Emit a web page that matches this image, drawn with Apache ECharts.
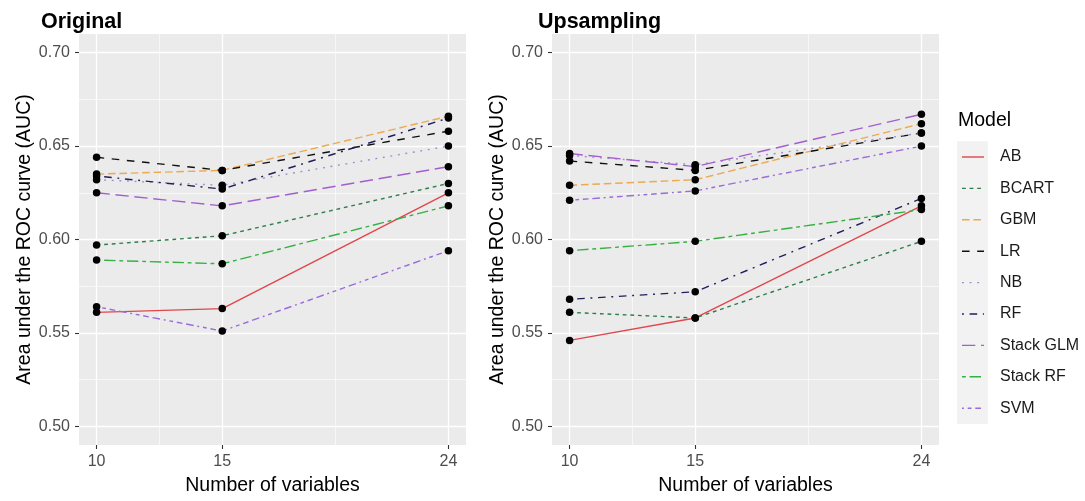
<!DOCTYPE html>
<html>
<head>
<meta charset="utf-8">
<script src="https://cdn.jsdelivr.net/npm/echarts@6/dist/echarts.min.js"></script>
<style>
html,body{margin:0;padding:0;background:#fff;}
#chart{width:1085px;height:501px;}
</style>
</head>
<body>
<div id="chart"></div>
<script>
// ---- data ----
const xValues = [10, 15, 24];
const xTickLabels = [10, 15, 24];
const yTickValues = [0.50, 0.55, 0.60, 0.65, 0.70];
const models = ['AB', 'BCART', 'GBM', 'LR', 'NB', 'RF', 'Stack GLM', 'Stack RF', 'SVM'];
const panelTitles = ['Original', 'Upsampling'];

const origAB       = [0.561, 0.563, 0.625];
const origBCART    = [0.597, 0.602, 0.630];
const origGBM      = [0.635, 0.637, 0.666];
const origLR       = [0.644, 0.637, 0.658];
const origNB       = [0.632, 0.629, 0.650];
const origRF       = [0.634, 0.627, 0.665];
const origStackGLM = [0.625, 0.618, 0.639];
const origStackRF  = [0.589, 0.587, 0.618];
const origSVM      = [0.564, 0.551, 0.594];

const upAB       = [0.546, 0.558, 0.618];
const upBCART    = [0.561, 0.558, 0.599];
const upGBM      = [0.629, 0.632, 0.662];
const upLR       = [0.642, 0.637, 0.657];
const upNB       = [0.645, 0.640, 0.657];
const upRF       = [0.568, 0.572, 0.622];
const upStackGLM = [0.646, 0.639, 0.667];
const upStackRF  = [0.594, 0.599, 0.616];
const upSVM      = [0.621, 0.626, 0.650];

// ---- styles ----
const colors = ['#E0474C', '#2E7D4A', '#EDA94F', '#111111', '#9C8FC9', '#1F1F5C', '#A35ED0', '#36B043', '#9B6BDA'];
const u = 1.9;
const dashes = [
  'solid', [2*u, 2*u], [4*u, 2*u], [4*u, 4*u], [1*u, 3*u],
  [1*u, 3*u, 4*u, 3*u], [7*u, 3*u], [2*u, 2*u, 6*u, 2*u], [1*u, 2*u, 2*u, 2*u, 3*u, 2*u, 4*u, 2*u]
];

const panels = [
  [origAB, origBCART, origGBM, origLR, origNB, origRF, origStackGLM, origStackRF, origSVM],
  [upAB, upBCART, upGBM, upLR, upNB, upRF, upStackGLM, upStackRF, upSVM]
];

const FONT = "'Liberation Sans', Arial, sans-serif";
const gridPos = [
  {left: 79, top: 34, width: 387, height: 415},
  {left: 552, top: 34, width: 387, height: 415}
];
const xMin = 9.3, xMax = 24.7, yMin = 0.49, yMax = 0.71;

const grids = [], xAxes = [], yAxes = [], series = [], titles = [];
gridPos.forEach((g, p) => {
  grids.push(Object.assign({backgroundColor: '#EBEBEB', show: true, borderWidth: 0}, g));
  // major x
  xAxes.push({
    type: 'value', gridIndex: p, min: xMin, max: xMax, position: 'bottom',
    name: 'Number of variables', nameLocation: 'middle', nameGap: 31,
    nameTextStyle: {fontFamily: FONT, fontSize: 19.5, color: '#000'},
    axisLine: {show: false},
    axisTick: {show: true, length: 4, customValues: xTickLabels, lineStyle: {color: '#333', width: 1.1}},
    axisLabel: {customValues: xTickLabels, margin: 9, fontFamily: FONT, fontSize: 16, color: '#4D4D4D'},
    splitLine: {show: true, lineStyle: {color: '#FFFFFF', width: 1.3}}
  });
  // minor x
  xAxes.push({
    type: 'value', gridIndex: p, min: xMin, max: xMax, position: 'top',
    axisLine: {show: false},
    axisTick: {show: false, customValues: [12.5, 19.5]},
    axisLabel: {show: false, customValues: [12.5, 19.5]},
    splitLine: {show: true, lineStyle: {color: '#FFFFFF', width: 0.6}}
  });
  yAxes.push({
    type: 'value', gridIndex: p, min: yMin, max: yMax, position: 'left',
    name: 'Area under the ROC curve (AUC)', nameLocation: 'middle', nameGap: 44,
    nameTextStyle: {fontFamily: FONT, fontSize: 19.5, color: '#000'},
    axisLine: {show: false},
    axisTick: {show: true, length: 4, customValues: yTickValues, lineStyle: {color: '#333', width: 1.1}},
    axisLabel: {customValues: yTickValues, margin: 9, fontFamily: FONT, fontSize: 16, color: '#4D4D4D',
                formatter: v => Number(v).toFixed(2)},
    splitLine: {show: true, lineStyle: {color: '#FFFFFF', width: 1.3}}
  });
  yAxes.push({
    type: 'value', gridIndex: p, min: yMin, max: yMax, position: 'right',
    axisLine: {show: false},
    axisTick: {show: false, customValues: [0.525, 0.575, 0.625, 0.675]},
    axisLabel: {show: false, customValues: [0.525, 0.575, 0.625, 0.675]},
    splitLine: {show: true, lineStyle: {color: '#FFFFFF', width: 0.6}}
  });
  const pts = [];
  panels[p].forEach((vals, i) => {
    const data = xValues.map((x, k) => [x, vals[k]]);
    series.push({
      type: 'line', name: models[i], xAxisIndex: 2*p, yAxisIndex: 2*p,
      data: data, showSymbol: false, symbol: 'none', silent: true, z: 2,
      lineStyle: {color: colors[i], width: 1.4, type: dashes[i]}
    });
    data.forEach(d => pts.push(d));
  });
  series.push({
    type: 'scatter', xAxisIndex: 2*p, yAxisIndex: 2*p, data: pts, z: 3,
    symbol: 'circle', symbolSize: 7.5, itemStyle: {color: '#000', opacity: 1}, silent: true
  });
  titles.push({
    text: panelTitles[p], left: p === 0 ? 41 : 538, top: 11, padding: 0,
    textStyle: {fontFamily: FONT, fontSize: 21.5, fontWeight: 'bold', color: '#000'}
  });
});

// legend drawn as graphic
const legTop = 157, legStep = 31.4;
const graphics = [
  {type: 'text', left: 958, top: 111, style: {text: 'Model', font: '19.5px ' + FONT, fill: '#000'}},
  {type: 'rect', shape: {x: 957, y: legTop - legStep/2, width: 31, height: legStep * models.length}, style: {fill: '#F2F2F2'}}
];
models.forEach((m, i) => {
  const y = legTop + i * legStep;
  graphics.push({type: 'line', shape: {x1: 962, y1: y, x2: 984, y2: y},
    style: {stroke: colors[i], lineWidth: 1.4, lineDash: dashes[i] === 'solid' ? null : dashes[i]}});
  graphics.push({type: 'text', x: 1000, y: y, style: {text: m, font: '16px ' + FONT, fill: '#1A1A1A', textVerticalAlign: 'middle', verticalAlign: 'middle'}});
});

const chart = echarts.init(document.getElementById('chart'), null, {renderer: 'canvas'});
chart.setOption({
  animation: false,
  backgroundColor: '#FFFFFF',
  title: titles,
  grid: grids,
  xAxis: xAxes,
  yAxis: yAxes,
  series: series,
  graphic: graphics
});
</script>
</body>
</html>
